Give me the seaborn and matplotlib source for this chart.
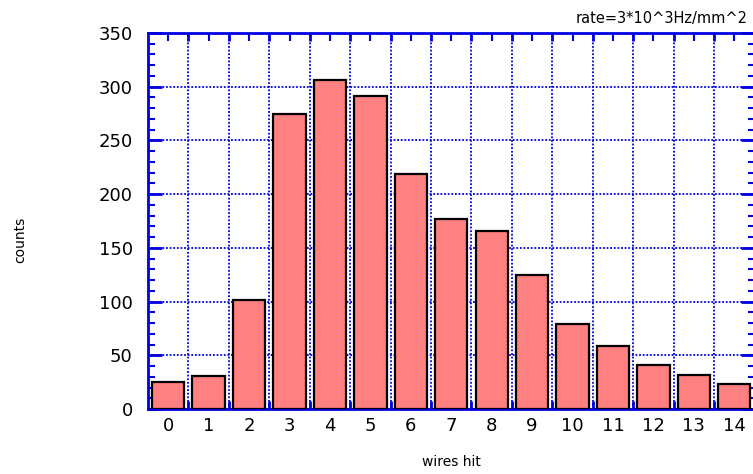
import matplotlib
matplotlib.use("Agg")
import matplotlib.pyplot as plt
import seaborn as sns
import numpy as np
import pandas as pd
from matplotlib.ticker import FixedLocator, MultipleLocator

wires = [str(i) for i in range(15)]
counts = [25, 31, 101, 275, 306, 291, 219, 177, 166, 125, 79, 59, 41, 32, 23]

sns.set_style("white")
plt.rcParams['font.family'] = ['DejaVu Sans']
plt.rcParams['text.color'] = 'black'

fig = plt.figure(figsize=(7.53, 4.74), dpi=100)
W, H = 753, 474
ax = fig.add_axes([148 / W, 1 - 409 / H, (754.5 - 148) / W, (409 - 33) / H])

df = pd.DataFrame({"wires": wires, "counts": counts})
sns.barplot(data=df, x="wires", y="counts", color="#ff8080", saturation=1,
            edgecolor="black", linewidth=1.6, width=0.8, ax=ax, zorder=3)

blue = "#0000e0"
ax.set_xlim(-0.5, 14.5)
ax.set_ylim(0, 350)

ax.set_xticks(range(15))
ax.set_xticklabels(wires)
ax.xaxis.set_minor_locator(FixedLocator(np.arange(0.5, 14, 1.0)))
ax.yaxis.set_major_locator(MultipleLocator(50))
ax.yaxis.set_minor_locator(MultipleLocator(10))

ax.tick_params(axis="x", which="major", direction="in", length=6, width=1.5,
               color=blue, top=True, bottom=True, labelsize=13, pad=6,
               labelcolor="black")
ax.tick_params(axis="x", which="minor", direction="in", length=6, width=2,
               color=blue, top=True, bottom=True)
ax.tick_params(axis="y", which="major", direction="in", length=10, width=2,
               color=blue, left=True, right=True, labelsize=13, pad=11,
               labelcolor="black")
ax.tick_params(axis="y", which="minor", direction="in", length=5, width=1.5,
               color=blue, left=True, right=True)

ax.set_axisbelow(True)
ax.grid(False)
ax.xaxis.grid(True, which="minor", color=blue, linestyle=(0, (1, 1)), linewidth=1.3)
ax.yaxis.grid(True, which="major", color=blue, linestyle=(0, (1, 1)), linewidth=1.3)

for s in ax.spines.values():
    s.set_color(blue)
    s.set_linewidth(2.0)
    s.set_visible(True)

ax.set_xlabel("")
ax.set_ylabel("")
fig.text(451 / W, 1 - 462 / H, "wires hit", ha="center", va="center", fontsize=10, color="black")
fig.text(20 / W, 1 - 240 / H, "counts", ha="center", va="center", rotation=90, fontsize=10, color="black")
fig.text(748 / W, 1 - 18 / H, "rate=3*10^3Hz/mm^2", ha="right", va="center", fontsize=10.5, color="black")

fig.savefig("out.png", dpi=100)
